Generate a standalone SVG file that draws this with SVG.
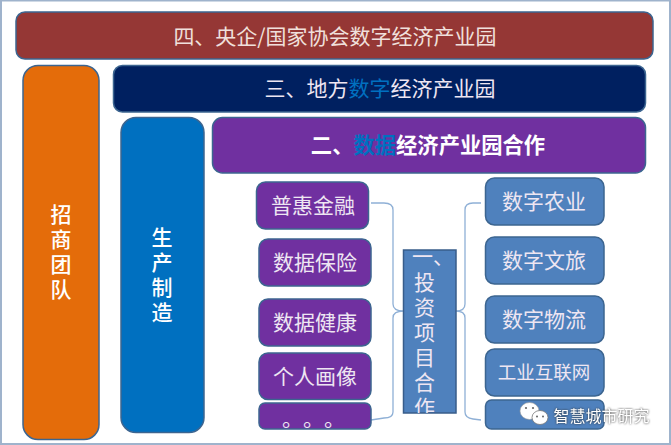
<svg xmlns="http://www.w3.org/2000/svg" width="671" height="445" viewBox="0 0 671 445">
<style>
.n{stroke:#3c6590;stroke-width:1.5}
text{font-family:"Noto Sans CJK SC","Liberation Sans",sans-serif;fill:#eee6f2;text-anchor:middle}
.t21{font-size:21px}
.b{font-weight:700;fill:#fff}
.m{font-weight:500;fill:#fff}
.c{fill:none;stroke:#8fb0d6;stroke-width:1.3}
</style>
<defs><clipPath id="clipCenter"><rect x="403" y="250" width="53" height="163"/></clipPath></defs>
<rect x="0" y="0" width="671" height="445" fill="#fff"/>
<rect x="1" y="0.5" width="669" height="443.5" fill="none" stroke="#9fb3cc" stroke-width="2"/>
<g id="connectors">
<path class="c" d="M371 203H384Q393 203 393 210V304Q393 311 403.500 311Q393 311 393 318V412Q393 418 384 418L371 420"/>
<path class="c" d="M481 203H473Q465 203 465 210V304Q465 311 456 311Q465 311 465 318V412Q465 418 473 419L481 420"/>
</g>
<g id="node-4"><rect class="n" x="16" y="12" width="637" height="47" rx="9" fill="#953735"/><text class="t21" x="335" y="43.500" style="fill:#f0e0dc">四、央企/国家协会数字经济产业园</text></g>
<g id="node-zhaoshang"><rect class="n" x="23" y="65.500" width="76" height="374" rx="15" fill="#e46c0a"/>
<text class="t21 m"><tspan x="61" y="222">招</tspan><tspan x="61" y="247">商</tspan><tspan x="61" y="272">团</tspan><tspan x="61" y="297">队</tspan></text></g>
<g id="node-3"><rect class="n" x="113.500" y="65.500" width="532" height="46.500" rx="9" fill="#002060"/><text class="t21" x="380" y="95.500">三、地方<tspan style="fill:#0070c0">数字</tspan>经济产业园</text></g>
<g id="node-shengchan"><rect class="n" x="121" y="117.500" width="83" height="315" rx="15" fill="#0070c0"/>
<text class="t21 m"><tspan x="162" y="245">生</tspan><tspan x="162" y="270">产</tspan><tspan x="162" y="295">制</tspan><tspan x="162" y="320">造</tspan></text></g>
<g id="node-2"><rect class="n" x="212.500" y="117.500" width="433" height="55.500" rx="10" fill="#7030a0"/><text class="b" font-size="21.300" x="428" y="152.500">二、<tspan style="fill:#0070c0">数据</tspan>经济产业园合作</text></g>
<g id="node-a1"><rect class="n" x="256.500" y="182" width="112" height="47" rx="9" fill="#7030a0"/><text class="t21" x="313" y="213">普惠金融</text></g>
<g id="node-a2"><rect class="n" x="259" y="239" width="112" height="47" rx="9" fill="#7030a0"/><text class="t21" x="315" y="270">数据保险</text></g>
<g id="node-a3"><rect class="n" x="259" y="299" width="112" height="47" rx="9" fill="#7030a0"/><text class="t21" x="315" y="330">数据健康</text></g>
<g id="node-a4"><rect class="n" x="259" y="353" width="112" height="46.500" rx="9" fill="#7030a0"/><text class="t21" x="315" y="383.500">个人画像</text></g>
<g id="node-a5"><rect class="n" x="259" y="403" width="112" height="26" rx="6" fill="#7030a0"/><text class="t21" y="426" style="text-anchor:start"><tspan x="282">。</tspan><tspan x="303">。</tspan><tspan x="324">。</tspan></text></g>
<g id="node-1"><rect x="403.500" y="250" width="52.500" height="163" fill="#4f81bd" stroke="#385d8a" stroke-width="1.500"/>
<text class="t21" clip-path="url(#clipCenter)"><tspan x="433" y="264">一、</tspan><tspan x="424.500" y="290">投</tspan><tspan x="424.500" y="315">资</tspan><tspan x="424.500" y="340">项</tspan><tspan x="424.500" y="365">目</tspan><tspan x="424.500" y="390">合</tspan><tspan x="424.500" y="415">作</tspan></text></g>
<g id="node-b1"><rect class="n" x="485.500" y="178" width="118.500" height="47" rx="9" fill="#4f81bd"/><text class="t21" x="544" y="209">数字农业</text></g>
<g id="node-b2"><rect class="n" x="485.500" y="237" width="118.500" height="47" rx="9" fill="#4f81bd"/><text class="t21" x="544" y="268">数字文旅</text></g>
<g id="node-b3"><rect class="n" x="485.500" y="296" width="118.500" height="47" rx="9" fill="#4f81bd"/><text class="t21" x="544" y="327">数字物流</text></g>
<g id="node-b4"><rect class="n" x="485.500" y="349" width="118.500" height="47" rx="9" fill="#4f81bd"/><text x="544" y="379" font-size="18.500">工业互联网</text></g>
<g id="node-b5"><rect class="n" x="485.500" y="400" width="118.500" height="29" rx="6" fill="#4f81bd"/></g>
<g id="watermark">
<ellipse cx="529.500" cy="411" rx="9.500" ry="8.500" fill="#fff" stroke="#999" stroke-width=".6"/>
<ellipse cx="540" cy="417.500" rx="8" ry="7" fill="#fff" stroke="#777" stroke-width=".8"/>
<circle cx="526" cy="408" r="1.100" fill="#666"/><circle cx="533" cy="408" r="1.100" fill="#666"/>
<circle cx="537" cy="416.500" r="1" fill="#666"/><circle cx="543" cy="416.500" r="1" fill="#666"/>
<text x="601.500" y="422" font-size="16" style="fill:#fff;filter:drop-shadow(0 0 1px #333)">智慧城市研究</text>
</g>
</svg>
